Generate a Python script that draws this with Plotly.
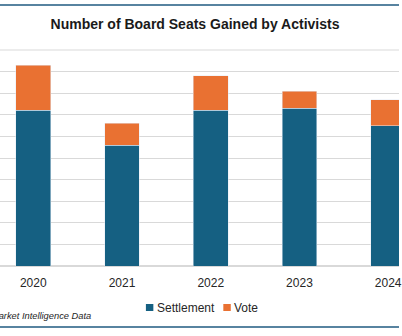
import plotly.graph_objects as go

years = ["2020", "2021", "2022", "2023", "2024"]
settlement = [72, 56, 72, 73, 65]
vote = [21, 10, 16, 8, 12]
series_names = ["Settlement", "Vote"]

BLUE = "#156082"
ORANGE = "#E97132"
W, H = 402, 336
plot_top, plot_bottom = 50, 266
ph = plot_bottom - plot_top


def py(pix):
    # convert a pixel row into paper y coordinates
    return (plot_bottom - pix) / ph


def px(pix):
    # convert a pixel column into paper x coordinates
    return pix / W


fig = go.Figure()
fig.add_trace(go.Bar(x=years, y=settlement, name=series_names[0], marker_color=BLUE))
fig.add_trace(go.Bar(x=years, y=vote, name=series_names[1], marker_color=ORANGE))

fig.update_layout(
    width=W, height=H,
    barmode="stack",
    bargap=0.61,
    plot_bgcolor="white",
    paper_bgcolor="white",
    margin=dict(l=0, r=0, t=plot_top, b=H - plot_bottom, pad=0),
    font=dict(family="Arial, Liberation Sans", color="#262626"),
    title=dict(
        text="<b>Number of Board Seats Gained by Activists</b>",
        x=195 / W, xanchor="center",
        y=1 - 24 / H, yanchor="middle",
        font=dict(size=14, color="#1a1a1a"),
    ),
    xaxis=dict(
        type="category",
        range=[-0.375, 4.122],
        showgrid=False,
        showline=False,
        ticks="",
        ticklabelstandoff=8,
        tickfont=dict(size=12, color="#262626"),
    ),
    yaxis=dict(
        range=[0, 100],
        dtick=10,
        showgrid=True,
        gridcolor="#d9d9d9",
        gridwidth=1,
        zeroline=True,
        zerolinecolor="#d9d9d9",
        showticklabels=False,
        ticks="",
    ),
    showlegend=False,
)

# compact legend: colour swatch followed by the series name
legend_items = [(series_names[0], BLUE, 147), (series_names[1], ORANGE, 225)]
for name, color, x0 in legend_items:
    fig.add_shape(
        type="rect", xref="paper", yref="paper",
        x0=px(x0), x1=px(x0 + 7.5), y0=py(304), y1=py(311),
        fillcolor=color, line=dict(width=0),
    )
    fig.add_annotation(
        text=name, xref="paper", yref="paper",
        x=px(x0 + 9), y=py(307.5),
        xanchor="left", yanchor="middle",
        showarrow=False,
        font=dict(size=12, color="#262626"),
    )

fig.add_annotation(
    text="<i>Source: S&P Global Market Intelligence Data</i>",
    xref="paper", yref="paper",
    x=px(94), y=py(316),
    xanchor="right", yanchor="middle",
    showarrow=False,
    font=dict(size=9.3, color="#262626"),
)

for pix in (5, 327):
    fig.add_shape(
        type="line", xref="paper", yref="paper",
        x0=0, x1=1, y0=py(pix), y1=py(pix),
        line=dict(color="#1f5a80", width=1.5),
    )

fig.add_shape(
    type="line", xref="paper", yref="paper",
    x0=0, x1=1, y0=1, y1=1,
    line=dict(color="#d9d9d9", width=1),
)

fig.write_html("out.html")
